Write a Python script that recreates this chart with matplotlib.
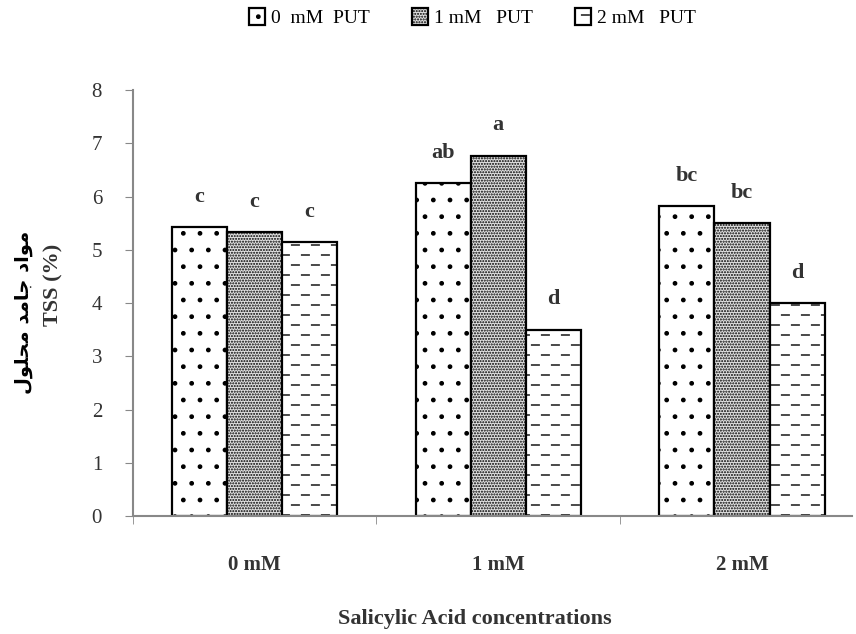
import numpy as np
import matplotlib
matplotlib.use('Agg')
import matplotlib.pyplot as plt
from matplotlib import hatch as mhatch
from matplotlib.path import Path

# données
groupes = ['0 mM', '1 mM', '2 mM']
series = ['0  mM  PUT', '1 mM   PUT', '2 mM   PUT']
put_0 = [5.42, 6.25, 5.82]
put_1 = [5.33, 6.77, 5.50]
put_2 = [5.15, 3.50, 4.00]
lettres_0 = ['c', 'ab', 'bc']
lettres_1 = ['c', 'a', 'bc']
lettres_2 = ['c', 'd', 'd']

# "مواد جامد محلول" en formes de présentation, ordre visuel (pas de shaping dans matplotlib)
label_ar = '\uFEDD\uFEEE\uFEE0\uFEA4\uFEE3 \uFEAA\uFEE3\uFE8E\uFE9F \uFEA9\uFE8D\uFEEE\uFEE3'


class TiretsHatch(mhatch.HatchPatternBase):
    """ remplace le hatch '-' : petits tirets en quinconce
    """
    def __init__(self, hatch, density):
        self.num_rows = 10 * (hatch.count('-') + hatch.count('+'))
        self.num_dash = 5
        self.num_vertices = self.num_rows * self.num_dash * 2

    def set_vertices_and_codes(self, vertices, codes):
        step = 1.0 / self.num_dash
        i = 0
        for r in range(self.num_rows):
            y = (r + 0.5) / self.num_rows
            shift = step / 2 if r % 2 else 0
            for d in range(self.num_dash):
                x0 = d * step + shift + 0.08 * step
                vertices[i] = [x0, y]
                vertices[i + 1] = [x0 + 0.38 * step, y]
                codes[i] = Path.MOVETO
                codes[i + 1] = Path.LINETO
                i += 2


mhatch._hatch_types = [TiretsHatch if t is mhatch.HorizontalHatch else t
                       for t in mhatch._hatch_types]

plt.rcParams['hatch.linewidth'] = 1.0

fig = plt.figure(figsize=(8.56, 6.34), dpi=100)
ax = fig.add_axes([0.155, 0.186, 0.84, 0.672])

x = np.arange(len(groupes))
w = 0.226
motifs = ['.', '......', '-']
fonds = ['white', '#e2e2e2', 'white']
valeurs = [put_0, put_1, put_2]
lettres = [lettres_0, lettres_1, lettres_2]

for k in range(3):
    pos = x + (k - 1) * w
    ax.bar(pos, valeurs[k], width=w, color=fonds[k], edgecolor='black',
           hatch=motifs[k], linewidth=1.6, label=series[k])
    for xi, v, l in zip(pos, valeurs[k], lettres[k]):
        ax.text(xi, v + 0.38, l, ha='center', va='bottom', family='Liberation Serif',
                fontsize=16, fontweight='bold', color='#333333')

ax.set_xlim(-0.5, 2.45)
ax.set_ylim(0, 8)
ax.set_yticks(range(0, 9))
ax.set_xticks(x)
ax.set_xticklabels(groupes, family='Liberation Serif', fontsize=15, fontweight='bold', color='#333333')
ax.set_xticks([-0.5, 0.5, 1.5], minor=True)
ax.tick_params(axis='x', which='major', length=0, pad=28)
ax.tick_params(axis='x', which='minor', length=6, color='#888888', direction='out')
ax.tick_params(axis='y', length=6, color='#888888', pad=16)
for t in ax.get_yticklabels():
    t.set_family('Liberation Serif')
    t.set_fontsize(15)
    t.set_color('#333333')

for s in ['top', 'right']:
    ax.spines[s].set_visible(False)
for s in ['left', 'bottom']:
    ax.spines[s].set_color('#888888')
    ax.spines[s].set_linewidth(1.5)

fig.text(0.555, 0.008, 'Salicylic Acid concentrations', ha='center', va='bottom',
         family='Liberation Serif', fontsize=16, fontweight='bold', color='#333333')
fig.text(0.027, 0.508, label_ar, rotation=90, ha='center', va='center',
         family='DejaVu Sans', fontsize=14, fontweight='bold')
fig.text(0.062, 0.55, 'TSS (%)', rotation=90, ha='center', va='center',
         family='Liberation Serif', fontsize=16, fontweight='bold', color='#333333')

leg = fig.legend(loc='center', bbox_to_anchor=(0.552, 0.972), ncol=3, frameon=False,
                 prop={'family': 'Liberation Serif', 'size': 14}, handlelength=0.8,
                 handleheight=0.9, handletextpad=0.3, columnspacing=2.2)

fig.savefig('out.png', dpi=100)
